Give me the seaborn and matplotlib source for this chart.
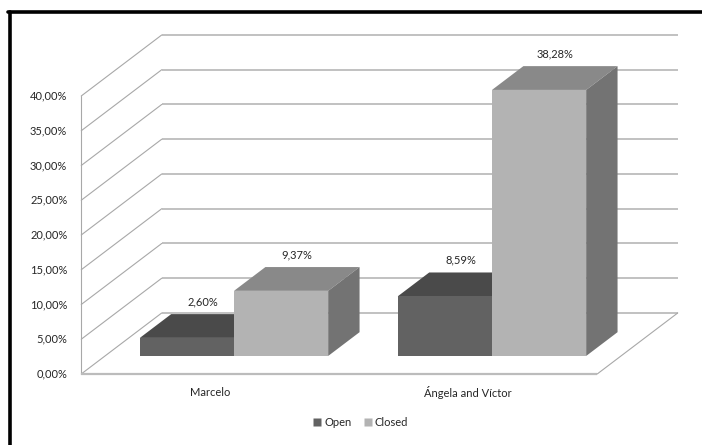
import matplotlib
matplotlib.use("Agg")
import matplotlib.pyplot as plt
from matplotlib.patches import Polygon
from matplotlib.lines import Line2D
import pandas as pd
import seaborn as sns

# ---- data -------------------------------------------------------------
groups = ["Marcelo", "Ángela and Víctor"]
statuses = ["Open", "Closed"]
open_pct = [2.60, 8.59]
closed_pct = [9.37, 38.28]
y_ticks = [0, 5, 10, 15, 20, 25, 30, 35, 40]

# ---- style ------------------------------------------------------------
sns.set_style("white")
plt.rcParams["font.family"] = ["Lato", "DejaVu Sans"]
TXT = "#262626"
GRID = "#bcbcbc"
front_col = {"Open": "#626262", "Closed": "#b3b3b3"}
top_col = {"Open": "#4a4a4a", "Closed": "#898989"}
side_col = {"Open": "#4f4f4f", "Closed": "#737373"}

# oblique projection of the 3-D box (category units / percent units)
DX, DY = 0.312, 8.78      # full depth of the plot box
D0, BD = 0.295, 0.39      # depth where the bars start, and their depth

df = pd.DataFrame({
    "group": groups * 2,
    "status": [statuses[0]] * len(groups) + [statuses[1]] * len(groups),
    "value": open_pct + closed_pct,
})

fig = plt.figure(figsize=(7.02, 4.45), dpi=100)
ax = fig.add_axes([0, 0, 1, 1])

sns.barplot(data=df, x="group", y="value", hue="status", order=groups,
            hue_order=statuses, palette=front_col, width=0.73,
            saturation=1, linewidth=0, legend=False, ax=ax, zorder=3)

# plot box corners
n = len(groups)
fl, fr = -0.5 - D0 * DX, n - 0.5 - D0 * DX          # front left / right
bl, br = fl + DX, fr + DX                           # back left / right
y_front = -D0 * DY
y_back = y_front + DY
ymax = y_ticks[-1]

# back wall gridlines and left wall diagonals
for v in y_ticks:
    ax.plot([bl, br], [v + y_back, v + y_back], color=GRID, lw=1.3, zorder=1,
            solid_capstyle="butt")
    ax.plot([fl, bl], [v + y_front, v + y_back], color="#a8a8a8", lw=0.8, zorder=1)
    ax.text(fl - 0.054, v + y_front, f"{v:.2f}".replace(".", ",") + "%",
            ha="right", va="center", fontsize=8, color=TXT)
# left wall front edge and floor
ax.plot([fl, fl], [y_front, ymax + y_front], color="#a8a8a8", lw=0.8, zorder=1)
ax.plot([fl, fr], [y_front, y_front], color=GRID, lw=1.6, zorder=1,
        solid_capstyle="butt")
ax.plot([fr, br], [y_front, y_back], color="#a8a8a8", lw=0.8, zorder=1)

# top and side faces for each seaborn bar
bdx, bdy = BD * DX, BD * DY
for level, cont, z in zip(statuses, ax.containers, (3, 5)):
    for rect in cont.patches:
        rect.set_zorder(z)
        x, w, h = rect.get_x(), rect.get_width(), rect.get_height()
        top = [(x, h), (x + w, h), (x + w + bdx, h + bdy), (x + bdx, h + bdy)]
        side = [(x + w, 0), (x + w + bdx, bdy), (x + w + bdx, h + bdy), (x + w, h)]
        ax.add_patch(Polygon(top, closed=True, fc=top_col[level], ec="none",
                             zorder=z - 0.1))
        ax.add_patch(Polygon(side, closed=True, fc=side_col[level], ec="none",
                             zorder=z - 0.1))
        ax.text(x + w / 2 + bdx / 2, h + bdy + 1.8,
                f"{h:.2f}".replace(".", ",") + "%",
                ha="center", va="center", fontsize=8, color=TXT, zorder=6)

# category labels under the floor
for i, g in enumerate(groups):
    ax.text(i - D0 * DX, y_front - 2.6, g, ha="center", va="center",
            fontsize=8, color=TXT)

ax.set_xlim(-0.907, 1.814)
ax.set_ylim(-12.81, 51.22)
ax.axis("off")

# legend
handles = [Line2D([], [], marker="s", ls="none", ms=5.5, mfc=front_col[s],
                  mec="none", label=s) for s in statuses]
fig.legend(handles=handles, loc="center", bbox_to_anchor=(360 / 702, 1 - 422 / 445),
           ncol=2, frameon=False, fontsize=8, handletextpad=0.1,
           columnspacing=1.0, handlelength=1.0, labelcolor=TXT)

# frame lines along the left and top edges
fig.add_artist(Line2D([9.5 / 702, 9.5 / 702], [0, 1 - 11.5 / 445], color="black",
                      lw=2.6, transform=fig.transFigure))
fig.add_artist(Line2D([8 / 702, 1], [1 - 11.5 / 445, 1 - 11.5 / 445], color="black",
                      lw=2.6, transform=fig.transFigure))

fig.savefig("out.png", dpi=100)
